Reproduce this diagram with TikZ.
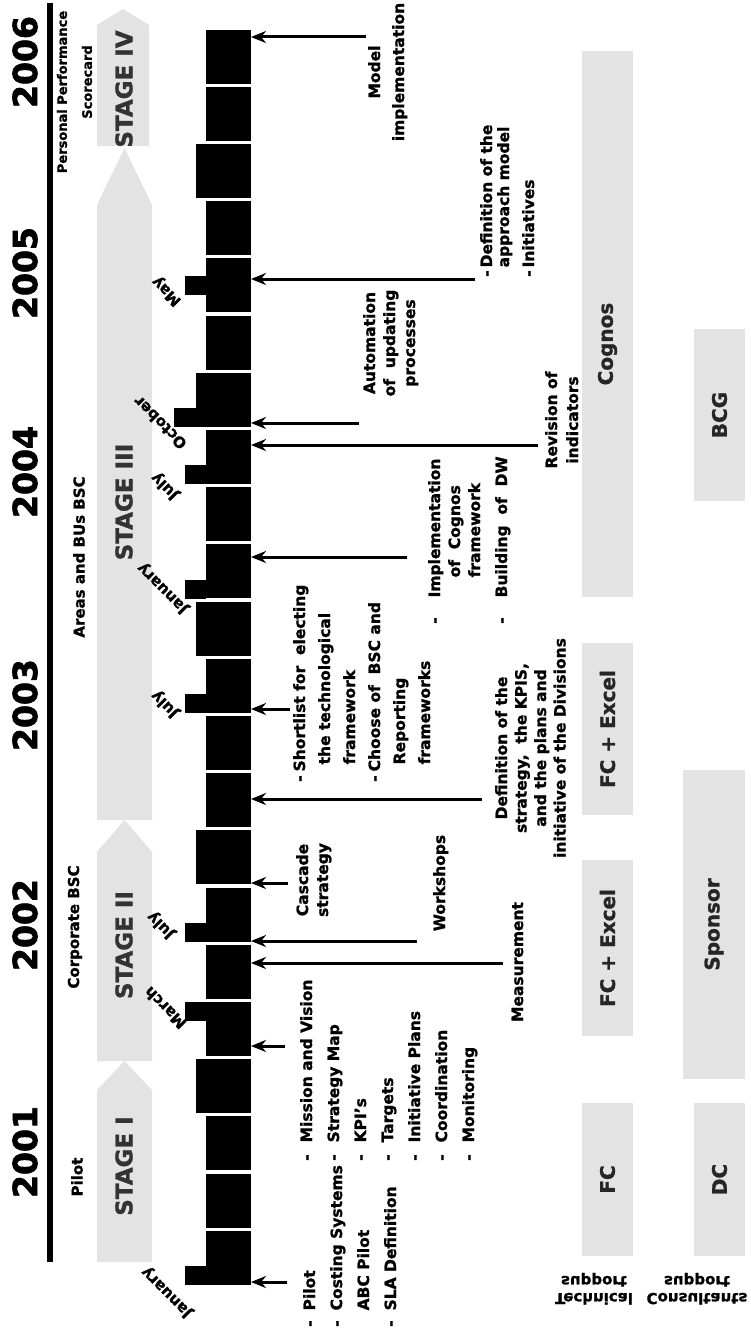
\documentclass[tikz,border=0pt]{standalone}
\usepackage{fontspec}
\setmainfont{DejaVu Sans}[BoldFeatures={FakeBold=1.2}]
\newfontfamily\yearfont{DejaVu Sans}[BoldFeatures={FakeBold=2.2}]
\usetikzlibrary{calc, arrows.meta}
\definecolor{stagegray}{RGB}{227,227,227}
\newcommand{\bfsz}[1]{\bfseries\fontsize{#1}{#1}\selectfont}

\begin{document}
\begin{tikzpicture}[x=1pt, y=-1pt, >={Stealth[length=15pt, width=12pt]},
    txt/.style={rotate=90, inner sep=0pt},
    yearlbl/.style={txt, font=\yearfont\bfsz{33}},
    phaselbl/.style={txt, font=\bfsz{15}},
    stagelbl/.style={txt, font=\bfsz{23}, text=black!80},
    month/.style={rotate=135, inner sep=0pt, font=\bfsz{15}},
    lst/.style={txt, font=\bfseries\fontsize{15.5}{#1}\selectfont},
    lst/.default=20,
    qbox/.style={fill=black, inner sep=0pt, minimum height=54pt},
    evt/.style={->, line width=3pt},
    supbox/.style={rotate=90, fill=stagegray, inner sep=0pt, font=\bfsz{20}, text=black!85},
    suplbl/.style={inner sep=0pt, font=\bfseries\fontsize{15}{17}\selectfont}]

    % --- page ---
    \useasboundingbox (0,0) rectangle (751,1330);
    \fill[white] (0,0) rectangle (751,1330);

    % --- time line and years ---
    \draw[line width=6pt] (50,3) -- (50,1262);
    \node[yearlbl] (y2001) at (25,1152) {2001};
    \node[yearlbl] (y2002) at (25,925) {2002};
    \node[yearlbl] (y2003) at (25,705) {2003};
    \node[yearlbl] (y2004) at (25,472) {2004};
    \node[yearlbl] (y2005) at (25,273) {2005};
    \node[yearlbl] (y2006) at (25,62) {2006};

    % --- phases ---
    \node[phaselbl] (pilot) at (77,1177) {Pilot};
    \node[phaselbl] (corp) at (75,927) {Corporate BSC};
    \node[phaselbl] (areas) at (79,557) {Areas and BUs BSC};
    \node[phaselbl, font=\bfsz{13}] (perf) at (62,92) {Personal Performance};
    \node[phaselbl, font=\bfsz{13}] (score) at (87,82) {Scorecard};

    % --- stage arrows ---
    \fill[stagegray] (97,1262) -- (97,1090) -- (124.5,1061) -- (152,1090) -- (152,1262) -- cycle;
    \fill[stagegray] (97,1061) -- (97,852) -- (124.5,820) -- (152,852) -- (152,1061) -- cycle;
    \fill[stagegray] (97,820) -- (97,205) -- (124.5,148) -- (152,205) -- (152,820) -- cycle;
    \fill[stagegray] (97,146) -- (97,25) -- (123,9) -- (149,25) -- (149,146) -- cycle;
    \node[stagelbl] (st1) at (124,1166) {STAGE I};
    \node[stagelbl] (st2) at (124,945) {STAGE II};
    \node[stagelbl] (st3) at (124,502) {STAGE III};
    \node[stagelbl] (st4) at (124,89) {STAGE IV};

    % --- quarters (the last one of a year is wider) ---
    \foreach \k in {0,...,21}{
        \pgfmathsetmacro{\yb}{1285-57.2*\k}
        \pgfmathsetmacro{\bw}{mod(\k,4)==3 ? 55 : 45}
        \node[qbox, minimum width=\bw*1pt, anchor=south east] (q\k) at (251,\yb) {};
    }
    % month marks
    \foreach \q in {q0,q6,q10,q12,q14}
        \fill (\q.south west) rectangle ++(-21,-19);
    \fill (q15.south west) rectangle ++(-22,-19);
    \fill (q4.north west) rectangle ++(-21,19);
    \fill ($(q17.south west)+(0,-17.5)$) rectangle ++(-21,-19);

    \node[month] (jan01) at (167,1292) {January};
    \node[month] (mar02) at (165,1008) {March};
    \node[month] (jul02) at (161,925) {July};
    \node[month] (jul03) at (165,704) {July};
    \node[month] (jan04) at (163,588) {January};
    \node[month] (jul04) at (165,486) {July};
    \node[month] (oct04) at (160,423) {October};
    \node[month] (may05) at (167,291) {May};

    % --- events ---
    \coordinate (a1) at (287,1282);
    \coordinate (a2) at (285,1046);
    \coordinate (a3) at (503,963);
    \coordinate (a4) at (417,941);
    \coordinate (a5) at (288,883);
    \coordinate (a6) at (482,799);
    \coordinate (a7) at (290,709);
    \coordinate (a8) at (407,557);
    \coordinate (a9) at (538,445);
    \coordinate (a10) at (359,423);
    \coordinate (a11) at (475,279);
    \coordinate (a12) at (366,37);
    \foreach \a/\q in {a1/q0, a2/q4, a3/q5, a4/q6, a5/q7, a6/q8,
                       a7/q10, a8/q12, a9/q14, a10/q15, a11/q17, a12/q21}
        \draw[evt] (\a) -- (\a -| \q.east);

    \node[lst=27, anchor=base west] (launch) at (315,1327) {\begin{tabular}[t]{@{}l@{\hspace{10pt}}l@{}}
        - & Pilot\\ - & Costing Systems\\ & ABC Pilot\\ - & SLA Definition\end{tabular}};
    \node[lst=27, anchor=base west] (pillars) at (312,1161) {\begin{tabular}[t]{@{}l@{\hspace{12pt}}l@{}}
        - & Mission and Vision\\ - & Strategy Map\\ - & KPI's\\ - & Targets\\
        - & Initiative Plans\\ - & Coordination\\ - & Monitoring\end{tabular}};
    \node[lst, anchor=base] (cascade) at (308,880) {\begin{tabular}[t]{@{}c@{}}Cascade\\strategy\end{tabular}};
    \node[lst, anchor=base] (works) at (445,883) {Workshops};
    \node[lst, anchor=base] (measure) at (523,962) {Measurement};
    \node[lst=19.5, anchor=base] (divs) at (507,748) {\begin{tabular}[t]{@{}c@{}}
        Definition of the\\ strategy,~~the KPIS,\\ and the plans and\\ initiative of the Divisions\end{tabular}};
    \node[lst=25, anchor=base west] (short) at (305,782) {\begin{tabular}[t]{@{}l@{\hspace{4pt}}l@{}}
        - & Shortlist for~~electing\\ & \hspace{7pt}the technological\\ & \hspace{7pt}framework\\
        - & Choose of~~BSC and\\ & \hspace{7pt}Reporting\\ & \hspace{7pt}frameworks\end{tabular}};
    \node[lst, anchor=base west] (cogimp) at (440,624) {\begin{tabular}[t]{@{}l@{\hspace{20pt}}l@{}}
        - & Implementation\\ & \hspace{20pt}of~~Cognos\\ & \hspace{20pt}framework\\[7pt]
        - & Building~~of~~DW\end{tabular}};
    \node[lst, anchor=base] (autom) at (375,343) {\begin{tabular}[t]{@{}c@{}}Automation\\of~~updating\\processes\end{tabular}};
    \node[lst=21, anchor=base] (revis) at (557,420) {\begin{tabular}[t]{@{}c@{}}Revision of\\indicators\end{tabular}};
    \node[lst=17, anchor=base west] (approach) at (492,277) {\begin{tabular}[t]{@{}l@{\hspace{3pt}}l@{}}
        - & Definition of the\\ & approach model\\[8pt] - & Initiatives\end{tabular}};
    \node[lst=24, anchor=base] (modelimp) at (380,72) {\begin{tabular}[t]{@{}c@{}}Model\\implementation\end{tabular}};

    % --- support ---
    \node[supbox, minimum width=153pt, minimum height=51pt] (fc) at (607.5,1179.5) {FC};
    \node[supbox, minimum width=176pt, minimum height=51pt] (fcx1) at (607.5,948) {FC + Excel};
    \node[supbox, minimum width=172pt, minimum height=51pt] (fcx2) at (607.5,729) {FC + Excel};
    \node[supbox, minimum width=546pt, minimum height=51pt] (cognos) at (607.5,324) {Cognos\rule{40pt}{0pt}};
    \node[supbox, minimum width=153pt, minimum height=51pt] (dc) at (719.5,1179.5) {DC};
    \node[supbox, minimum width=309pt, minimum height=62pt] (sponsor) at (714,924.5) {Sponsor};
    \node[supbox, minimum width=172pt, minimum height=51pt] (bcg) at (719.5,415) {BCG};
    \node[suplbl] (techsup) at (594,1288) {\scalebox{1}[-1]{\begin{tabular}{@{}c@{}}Technical\\support\end{tabular}}};
    \node[suplbl] (conssup) at (697,1288) {\scalebox{1}[-1]{\begin{tabular}{@{}c@{}}Consultants\\support\end{tabular}}};
\end{tikzpicture}
\end{document}
